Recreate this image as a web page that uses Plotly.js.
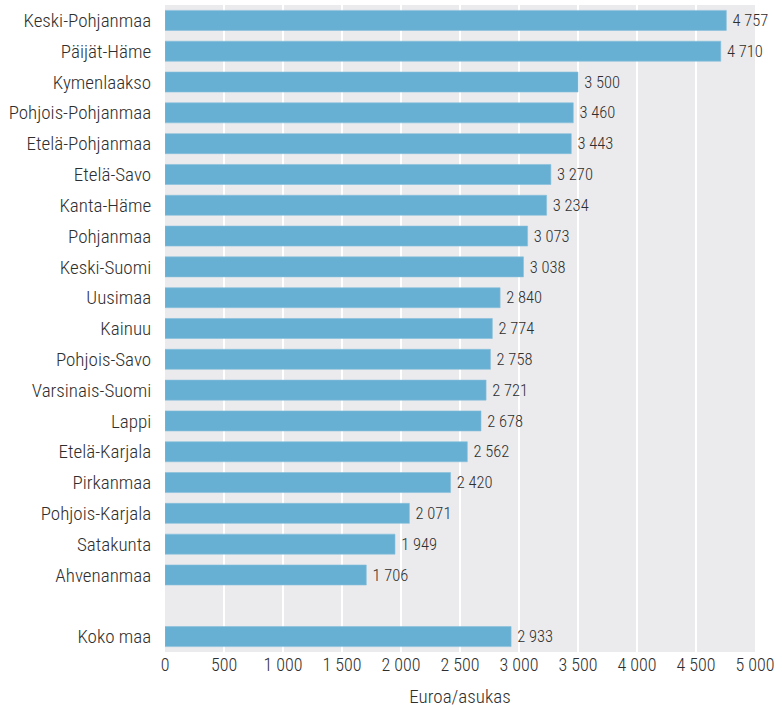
<!DOCTYPE html>
<html>
<head>
<meta charset="utf-8">
<script src="https://cdn.plot.ly/plotly-3.0.1.min.js"></script>
<style>html,body{margin:0;padding:0;background:#fff;}#chart{width:782px;height:709px;}</style>
</head>
<body>
<div id="chart"></div>
<script>
const regions = ["Keski-Pohjanmaa","Päijät-Häme","Kymenlaakso","Pohjois-Pohjanmaa","Etelä-Pohjanmaa","Etelä-Savo","Kanta-Häme","Pohjanmaa","Keski-Suomi","Uusimaa","Kainuu","Pohjois-Savo","Varsinais-Suomi","Lappi","Etelä-Karjala","Pirkanmaa","Pohjois-Karjala","Satakunta","Ahvenanmaa"," ","Koko maa"];
const values = [4757,4710,3500,3460,3443,3270,3234,3073,3038,2840,2774,2758,2721,2678,2562,2420,2071,1949,1706,null,2933];
const xTicks = [0,500,1000,1500,2000,2500,3000,3500,4000,4500,5000];

const FONT = '"Roboto Condensed", "Liberation Sans Narrow", Roboto, Arial, sans-serif';
const TXT = '#2e2e2e';
const trace = {
  type: 'bar', orientation: 'h',
  x: values, y: regions,
  marker: {color: '#68b0d3', line: {color: '#86c0dc', width: 0.6}},
  texttemplate: '\u2009%{x:,}',
  textposition: 'outside',
  cliponaxis: false,
  textfont: {family: FONT, size: 19, color: TXT, weight: 300},
  hoverinfo: 'none'
};
const layout = {
  width: 782, height: 709,
  margin: {l: 165, r: 27, t: 5, b: 57},
  paper_bgcolor: '#ffffff', plot_bgcolor: '#ebebed',
  separators: ', ',
  bargap: 0.35,
  showlegend: false,
  font: {family: FONT, size: 18, color: TXT, weight: 300},
  xaxis: {
    range: [0, 5000], tickvals: xTicks, tickformat: ',d',
    showgrid: true, gridcolor: '#ffffff', gridwidth: 2,
    zeroline: false, showline: false, ticks: '',
    tickfont: {family: FONT, size: 18, color: TXT, weight: 300},
    title: {text: 'Euroa/asukas', font: {family: FONT, size: 19, color: TXT, weight: 300}, standoff: 15},
    fixedrange: true
  },
  yaxis: {
    type: 'category', categoryorder: 'array', categoryarray: regions,
    autorange: 'reversed', showgrid: false, zeroline: false,
    ticks: 'outside', ticklen: 9, tickcolor: 'rgba(0,0,0,0)',
    tickfont: {family: FONT, size: 19, color: TXT, weight: 300},
    fixedrange: true
  }
};
Plotly.newPlot('chart', [trace], layout, {displayModeBar: false, staticPlot: true});
</script>
</body>
</html>
